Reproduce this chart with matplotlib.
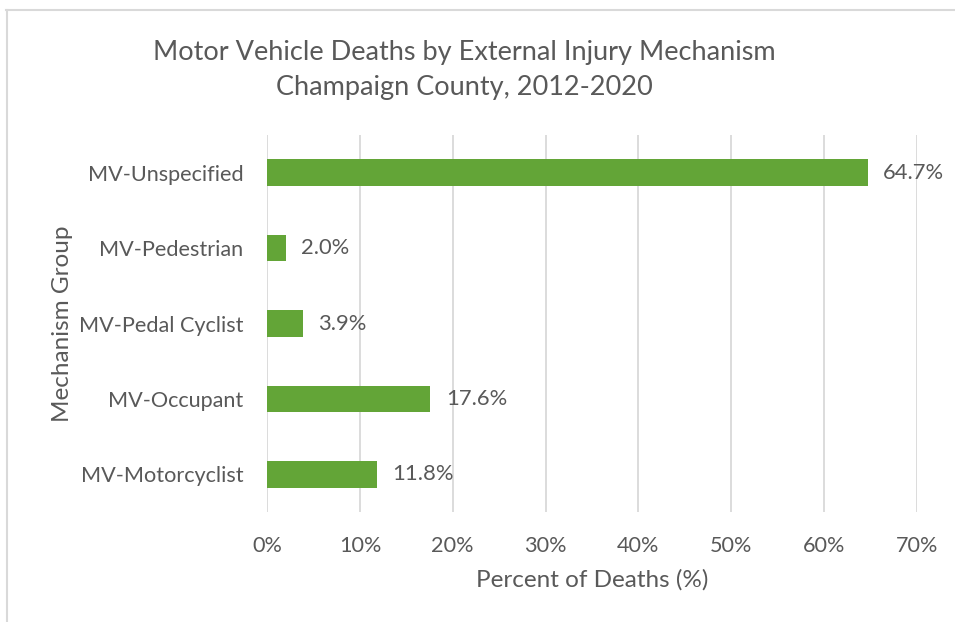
import matplotlib.pyplot as plt
from matplotlib.lines import Line2D
from matplotlib.ticker import FuncFormatter

plt.rcParams['font.family'] = ['Lato', 'DejaVu Sans']

categories = ['MV-Motorcyclist', 'MV-Occupant', 'MV-Pedal Cyclist', 'MV-Pedestrian', 'MV-Unspecified']
percents = [11.8, 17.6, 3.9, 2.0, 64.7]
x_ticks = [0, 10, 20, 30, 40, 50, 60, 70]

text_color = '#595959'
bar_color = '#63A537'
grid_color = '#D9D9D9'

fig = plt.figure(figsize=(9.55, 6.22), dpi=100)
ax = fig.add_axes([0.2796, 0.1768, 0.6806, 0.6062])

ax.barh(categories, percents, height=0.35, color=bar_color, zorder=3)
for i, v in enumerate(percents):
    ax.annotate(f'{v:.1f}%', (v, i), xytext=(11, 0), textcoords='offset points',
                va='center', ha='left', fontsize=15.8, color=text_color)

ax.set_xlim(0, 70)
ax.set_ylim(-0.5, 4.5)
ax.set_xticks(x_ticks)
ax.xaxis.set_major_formatter(FuncFormatter(lambda v, p: f'{v:.0f}%'))
ax.grid(axis='x', color=grid_color, linewidth=1.3, zorder=0)
for s in ax.spines.values():
    s.set_visible(False)
ax.tick_params(axis='both', length=0, labelsize=15.6, labelcolor=text_color)
ax.tick_params(axis='y', pad=17)
ax.tick_params(axis='x', pad=17)

ax.set_xlabel('Percent of Deaths (%)', fontsize=17.5, color=text_color, labelpad=10)
ax.set_ylabel('Mechanism Group', fontsize=17.5, color=text_color, labelpad=4)

fig.text(0.486, 0.887, 'Motor Vehicle Deaths by External Injury Mechanism\nChampaign County, 2012-2020',
         ha='center', va='center', fontsize=19.5, color=text_color, linespacing=1.52)

# chart border (partly cut off at the right and bottom)
fig.add_artist(Line2D([6 / 955, 1.0], [1 - 9.5 / 622, 1 - 9.5 / 622], color=grid_color, linewidth=1.5))
fig.add_artist(Line2D([6.5 / 955, 6.5 / 955], [0, 1 - 9.5 / 622], color=grid_color, linewidth=1.5))

fig.savefig('out.png', dpi=100)
